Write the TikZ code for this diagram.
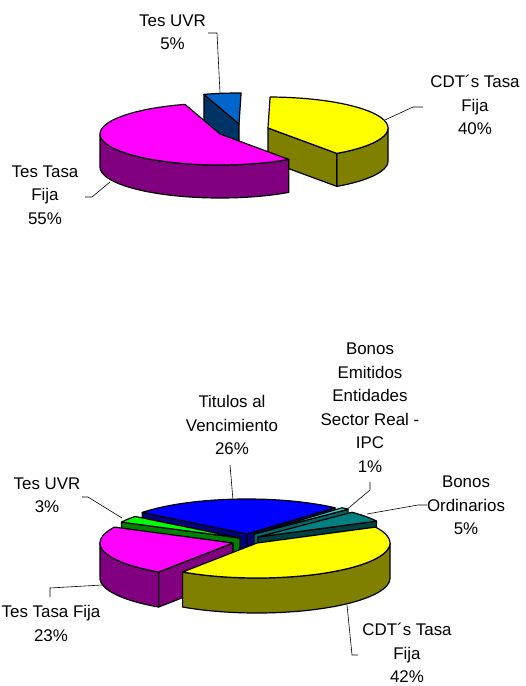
\documentclass[tikz,border=0pt]{standalone}
\usepackage{fontspec}
\setmainfont{Liberation Sans}
\definecolor{mag}{HTML}{FF00FF}
\definecolor{purp}{HTML}{800080}
\definecolor{uvrtop}{HTML}{0066CC}
\definecolor{uvrside}{HTML}{003366}
\definecolor{yel}{HTML}{FFFF00}
\definecolor{oliv}{HTML}{808000}
\definecolor{btop}{HTML}{0000FF}
\definecolor{bside}{HTML}{000080}
\definecolor{cytop}{HTML}{33CCCC}
\definecolor{cyside}{HTML}{006666}
\definecolor{tealtop}{HTML}{008080}
\definecolor{tealside}{HTML}{004040}
\definecolor{lgreen}{HTML}{00FF00}
\definecolor{dgreen}{HTML}{008000}
\tikzset{
  pie/.style={draw=black, line width=1.2pt, line join=round},
  leader/.style={draw=black, line width=0.6pt},
  lbl/.style={align=center, inner sep=0pt, font=\fontsize{16.9}{23.5}\selectfont},
}
\newcommand\SetPie[3]{\def\RX{#1}\def\RY{#2}\def\DP{#3}}
\newcommand\SetC[2]{\def\CX{#1}\def\CY{#2}}
\newcommand\TopFace[3]{\filldraw[pie,fill=#3] (\CX,\CY) -- plot[domain=#1:#2,samples=40] ({\CX+\RX*cos(\x)},{\CY-\RY*sin(\x)}) -- cycle;}
\newcommand\RimFace[3]{\filldraw[pie,fill=#3] plot[domain=#1:#2,samples=40] ({\CX+\RX*cos(\x)},{\CY-\RY*sin(\x)}) -- plot[domain=#2:#1,samples=40] ({\CX+\RX*cos(\x)},{\CY+\DP-\RY*sin(\x)}) -- cycle;}
\newcommand\RadFace[2]{\filldraw[pie,fill=#2] (\CX,\CY) -- ({\CX+\RX*cos(#1)},{\CY-\RY*sin(#1)}) -- ({\CX+\RX*cos(#1)},{\CY+\DP-\RY*sin(#1)}) -- (\CX,\CY+\DP) -- cycle;}
\begin{document}
\begin{tikzpicture}[x=1pt,y=-1pt]
\useasboundingbox (0,0) rectangle (526,686);
% ---------------- top chart ----------------
\SetPie{120}{31}{33}
\SetC{239}{124}
\RadFace{107}{uvrside}
\TopFace{89}{107}{uvrtop}
\SetC{268}{128}
\RimFace{-55}{0}{oliv}
\RadFace{-55}{oliv}
\TopFace{-55}{89}{yel}
\SetC{220}{134}
\RimFace{180}{305}{purp}
\TopFace{107}{305}{mag}
% labels top
\node[lbl] (t1) at (172.5,32.5) {Tes UVR\\5\%};
\node[lbl] (t2) at (475,105) {CDT´s Tasa\\Fija\\40\%};
\node[lbl] (t3) at (45,195) {Tes Tasa\\Fija\\55\%};
\coordinate (t1a) at (208,33); \coordinate (t1b) at (217,33); \coordinate (t1c) at (220,93);
\coordinate (t2a) at (423,107); \coordinate (t2b) at (413,107); \coordinate (t2c) at (385,120);
\coordinate (t3a) at (85,197); \coordinate (t3b) at (92,197); \coordinate (t3c) at (110,182);
\draw[leader] (t1a) -- (t1b) -- (t1c);
\draw[leader] (t2a) -- (t2b) -- (t2c);
\draw[leader] (t3a) -- (t3b) -- (t3c);
% ---------------- bottom chart ----------------
\SetPie{133}{35}{35}
\SetC{247}{534}
\RadFace{142}{bside}
\RadFace{48.6}{bside}
\TopFace{48.6}{142}{btop}
\SetC{254}{534}
\RadFace{45}{cyside}
\TopFace{45}{48.6}{cytop}
\SetC{258}{537}
\RadFace{27}{tealside}
\TopFace{27}{45}{tealtop}
\SetC{240}{538}
\RadFace{153}{dgreen}
\TopFace{142}{153}{lgreen}
\SetC{233}{543}
\RadFace{236}{purp}
\RimFace{180}{236}{purp}
\TopFace{153}{236}{mag}
\SetC{257}{543}
\RimFace{236}{360}{oliv}
\TopFace{236}{387}{yel}
% labels bottom
\node[lbl] (b1) at (232,425) {Titulos al\\Vencimiento\\26\%};
\node[lbl] (b2) at (370,407.5) {Bonos\\Emitidos\\Entidades\\Sector Real -\\IPC\\1\%};
\node[lbl] (b3) at (466,505.5) {Bonos\\Ordinarios\\5\%};
\node[lbl] (b4) at (47,495.5) {Tes UVR\\3\%};
\node[lbl] (b5) at (51,623.5) {Tes Tasa Fija\\23\%};
\node[lbl] (b6) at (407,653) {CDT´s Tasa\\Fija\\42\%};
\coordinate (b1a) at (230,465); \coordinate (b1b) at (233,500);
\coordinate (b2a) at (370,482); \coordinate (b2b) at (370,490); \coordinate (b2c) at (345,511);
\coordinate (b3a) at (427,505); \coordinate (b3b) at (418,505); \coordinate (b3c) at (367,514);
\coordinate (b4a) at (82,497); \coordinate (b4b) at (88,497); \coordinate (b4c) at (122,518);
\coordinate (b5a) at (50,597); \coordinate (b5b) at (50,588); \coordinate (b5c) at (102,585);
\coordinate (b6a) at (358,655); \coordinate (b6b) at (352,655); \coordinate (b6c) at (347,605);
\draw[leader] (b1a) -- (b1b);
\draw[leader] (b2a) -- (b2b) -- (b2c);
\draw[leader] (b3a) -- (b3b) -- (b3c);
\draw[leader] (b4a) -- (b4b) -- (b4c);
\draw[leader] (b5a) -- (b5b) -- (b5c);
\draw[leader] (b6a) -- (b6b) -- (b6c);
\end{tikzpicture}
\end{document}
